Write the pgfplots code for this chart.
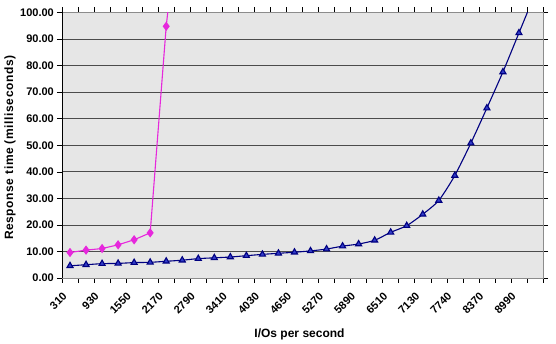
\documentclass[border=0pt]{standalone}
\usepackage{fontspec}
\setmainfont{Liberation Sans}
\newfontfamily\lsfont[LetterSpace=5]{Liberation Sans}
\usepackage{pgfplots}
\pgfplotsset{compat=1.18}
\definecolor{bgc}{RGB}{230,230,230}
\definecolor{navy}{RGB}{0,0,128}
\definecolor{tri}{RGB}{50,60,200}
\definecolor{mag}{RGB}{230,40,220}
\begin{document}
\begin{tikzpicture}
\begin{axis}[name=ax, scale only axis, width=481pt, height=265.5pt,
 xmin=0.5, xmax=30.5, ymin=0, ymax=100,
 xtick={1,3,...,29},
 xticklabels={310,930,1550,2170,2790,3410,4030,4650,5270,5890,6510,7130,7740,8370,8990},
 minor xtick={0.5,1.5,...,30.5},
 every major x tick/.append style={draw=none},
 ytick={0,10,...,100},
 yticklabels={0.00,10.00,20.00,30.00,40.00,50.00,60.00,70.00,80.00,90.00,100.00},
 tick align=outside, major tick length=5pt, minor tick length=5pt,
 tick style={black, line width=0.5pt},
 ymajorgrids, major grid style={black!70, line width=0.6pt},
 axis background/.style={fill=bgc},
 axis line style={black!45},
 ticklabel style={font=\fontsize{11}{13}\selectfont\bfseries},
 xticklabel style={xshift=-8pt, yshift=-7pt, rotate=45, anchor=north east, inner sep=1pt},
 yticklabel style={inner sep=1pt, xshift=-2pt},
 xlabel={I/Os per second},
 xlabel style={at={(axis description cs:0.5,0)}, anchor=center, yshift=-56pt, xshift=-3pt, font=\fontsize{12}{14}\selectfont\bfseries},
 ylabel={Response time (milliseconds)},
 ylabel style={at={(axis description cs:0,0.5)}, anchor=center, yshift=52pt, xshift=-2.5pt, font=\fontsize{12}{14}\selectfont\lsfont\bfseries},
]
\draw[black, line width=0.6pt] (rel axis cs:0,1) -- (rel axis cs:0,0) -- (rel axis cs:1,0);
\addplot[mag, line width=1.1pt, mark=diamond*, mark size=3.8pt, mark options={fill=mag, draw=mag}] coordinates {
(1,9.6) (2,10.5) (3,11.1) (4,12.5) (5,14.4) (6,17.0) (7,94.8) (8,150)
};
\addplot[navy, line width=1.1pt, smooth, tension=0.4, mark=triangle*, mark size=3.5pt, mark options={fill=tri, draw=navy}] coordinates {
(1,4.6) (2,5.0) (3,5.4) (4,5.5) (5,5.8) (6,5.9) (7,6.3) (8,6.7) (9,7.3) (10,7.6)
(11,7.9) (12,8.4) (13,8.9) (14,9.3) (15,9.7) (16,10.2) (17,10.9) (18,12.0) (19,12.8) (20,14.2)
(21,17.2) (22,19.7) (23,24.0) (24,29.2) (25,38.6) (26,50.8) (27,64.0) (28,77.6) (29,92.3) (30,107)
};
\end{axis}
\pgfresetboundingbox
\path ([shift={(-62pt,-66pt)}]ax.south west) rectangle ([shift={(13pt,12.5pt)}]ax.north east);
\end{tikzpicture}
\end{document}
